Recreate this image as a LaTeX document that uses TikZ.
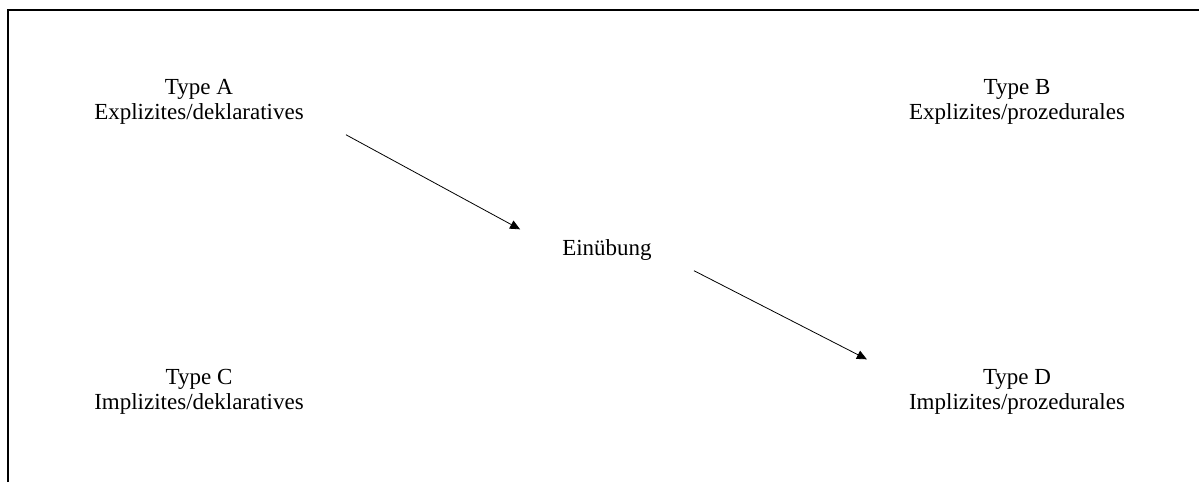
\documentclass[tikz,border=0pt]{standalone}
\usepackage{fontspec}
\setmainfont{Liberation Serif}
\usetikzlibrary{arrows.meta}
\tikzset{>={Triangle[length=10pt,width=9pt]}}

\begin{document}
\begin{tikzpicture}[x=1pt, y=-1pt,
    wissen/.style={align=center, inner xsep=42pt, inner ysep=10pt, font=\fontsize{23}{25}\selectfont}]

    \useasboundingbox (0,0) rectangle (1199,482);

    \draw[black, line width=1.5pt] (8,482) -- (8,10) -- (1199,10);

    \node[wissen] (typA) at (199,102) {Type A\\Explizites/deklaratives};
    \node[wissen] (typB) at (1017,102) {Type B\\Explizites/prozedurales};
    \node[wissen] (ueb) at (607,250) {Einübung};
    \node[wissen] (typC) at (199,392) {Type C\\Implizites/deklaratives};
    \node[wissen] (typD) at (1017,392) {Type D\\Implizites/prozedurales};

    \draw[->, black, line width=0.8pt] (typA.south east) -- (ueb.north west);
    \draw[->, black, line width=0.8pt] (ueb.south east) -- (typD.north west);

\end{tikzpicture}
\end{document}
